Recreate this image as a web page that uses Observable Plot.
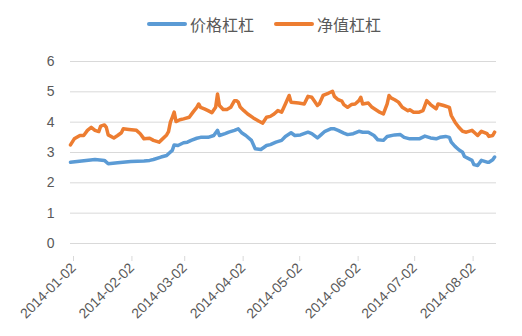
<!DOCTYPE html>
<html><head><meta charset="utf-8">
<script src="https://cdn.jsdelivr.net/npm/d3@7"></script>
<script src="https://cdn.jsdelivr.net/npm/@observablehq/plot@0.6"></script>
<style>
body{margin:0;background:#fff;}
#wrap{position:relative;width:522px;height:336px;font-family:"Liberation Sans","Noto Sans CJK SC",sans-serif;}
#legend{position:absolute;top:13px;left:0;width:522px;height:22px;}
.item{position:absolute;top:0;display:flex;align-items:center;height:22px;font-size:16px;color:#595959;font-family:"Noto Sans CJK SC",sans-serif;}
.sw{width:40px;height:4px;border-radius:2px;margin-right:3px;}
#chart{position:absolute;top:0;left:0;}
</style></head><body><div id="wrap"><div id="legend"></div><div id="chart"></div></div>
<script>
const seriesNames = ["价格杠杠", "净值杠杠"];
const seriesColors = ["#5B9BD5", "#ED7D31"];
const yTicks = [0, 1, 2, 3, 4, 5, 6];
const xTickLabels = ["2014-01-02","2014-02-02","2014-03-02","2014-04-02","2014-05-02","2014-06-02","2014-07-02","2014-08-02"];

const priceDates = ["2014-01-02","2014-01-15","2014-01-20","2014-01-22","2014-01-27","2014-02-03","2014-02-10","2014-02-13","2014-02-15","2014-02-19","2014-02-22","2014-02-23","2014-02-25","2014-02-26","2014-02-28","2014-03-03","2014-03-05","2014-03-07","2014-03-10","2014-03-12","2014-03-16","2014-03-19","2014-03-21","2014-03-22","2014-03-25","2014-03-27","2014-03-30","2014-04-01","2014-04-03","2014-04-05","2014-04-08","2014-04-10","2014-04-13","2014-04-16","2014-04-18","2014-04-21","2014-04-24","2014-04-26","2014-04-29","2014-05-01","2014-05-04","2014-05-08","2014-05-10","2014-05-13","2014-05-15","2014-05-17","2014-05-20","2014-05-22","2014-05-24","2014-05-27","2014-05-29","2014-06-01","2014-06-04","2014-06-06","2014-06-09","2014-06-12","2014-06-14","2014-06-17","2014-06-19","2014-06-23","2014-06-26","2014-06-28","2014-07-01","2014-07-06","2014-07-09","2014-07-12","2014-07-15","2014-07-17","2014-07-20","2014-07-22","2014-07-23","2014-07-25","2014-07-27","2014-07-29","2014-07-30","2014-08-03","2014-08-04","2014-08-06","2014-08-08","2014-08-11","2014-08-12","2014-08-14","2014-08-15"];
const priceValues = [2.68,2.77,2.74,2.63,2.66,2.70,2.72,2.74,2.77,2.85,2.90,2.96,3.07,3.25,3.23,3.32,3.34,3.40,3.47,3.50,3.50,3.56,3.73,3.56,3.62,3.67,3.73,3.78,3.64,3.56,3.40,3.12,3.10,3.23,3.26,3.34,3.40,3.53,3.65,3.56,3.58,3.67,3.62,3.48,3.59,3.70,3.78,3.78,3.73,3.64,3.59,3.62,3.70,3.67,3.67,3.56,3.42,3.40,3.53,3.58,3.59,3.50,3.45,3.45,3.54,3.48,3.45,3.50,3.53,3.50,3.34,3.20,3.09,3.01,2.87,2.74,2.60,2.57,2.74,2.68,2.68,2.76,2.85];

const navDates = ["2014-01-02","2014-01-04","2014-01-07","2014-01-09","2014-01-11","2014-01-13","2014-01-15","2014-01-17","2014-01-18","2014-01-20","2014-01-21","2014-01-22","2014-01-25","2014-01-27","2014-01-29","2014-01-30","2014-02-02","2014-02-06","2014-02-08","2014-02-10","2014-02-13","2014-02-15","2014-02-18","2014-02-19","2014-02-22","2014-02-23","2014-02-24","2014-02-25","2014-02-26","2014-02-27","2014-03-01","2014-03-03","2014-03-06","2014-03-08","2014-03-10","2014-03-11","2014-03-12","2014-03-14","2014-03-16","2014-03-18","2014-03-20","2014-03-21","2014-03-22","2014-03-24","2014-03-26","2014-03-28","2014-03-30","2014-03-31","2014-04-01","2014-04-02","2014-04-04","2014-04-06","2014-04-09","2014-04-12","2014-04-14","2014-04-16","2014-04-18","2014-04-20","2014-04-22","2014-04-24","2014-04-26","2014-04-28","2014-04-29","2014-05-03","2014-05-06","2014-05-08","2014-05-10","2014-05-13","2014-05-14","2014-05-16","2014-05-19","2014-05-21","2014-05-22","2014-05-24","2014-05-26","2014-05-27","2014-05-29","2014-05-31","2014-06-02","2014-06-04","2014-06-05","2014-06-06","2014-06-09","2014-06-11","2014-06-13","2014-06-15","2014-06-17","2014-06-19","2014-06-20","2014-06-21","2014-06-23","2014-06-25","2014-06-27","2014-06-30","2014-07-01","2014-07-03","2014-07-06","2014-07-08","2014-07-10","2014-07-12","2014-07-15","2014-07-16","2014-07-19","2014-07-22","2014-07-23","2014-07-25","2014-07-27","2014-07-29","2014-07-31","2014-08-03","2014-08-05","2014-08-06","2014-08-08","2014-08-11","2014-08-12","2014-08-14","2014-08-15"];
const navValues = [3.25,3.45,3.56,3.56,3.73,3.83,3.73,3.69,3.87,3.91,3.83,3.58,3.48,3.56,3.65,3.78,3.76,3.73,3.62,3.45,3.47,3.40,3.34,3.40,3.58,3.69,4.00,4.16,4.33,4.02,4.08,4.11,4.16,4.33,4.49,4.60,4.49,4.44,4.38,4.31,4.49,4.93,4.55,4.42,4.42,4.49,4.71,4.71,4.66,4.50,4.38,4.27,4.14,4.03,3.97,4.16,4.19,4.27,4.38,4.33,4.60,4.88,4.66,4.63,4.60,4.85,4.82,4.55,4.60,4.88,4.96,5.02,4.85,4.74,4.69,4.58,4.49,4.58,4.60,4.71,4.82,4.60,4.63,4.49,4.41,4.33,4.27,4.60,4.88,4.80,4.74,4.66,4.49,4.38,4.41,4.33,4.33,4.38,4.71,4.58,4.44,4.60,4.55,4.49,4.22,4.00,3.83,3.70,3.67,3.73,3.62,3.56,3.70,3.62,3.53,3.56,3.67];

const parse = d3.utcParse("%Y-%m-%d");
const fmt = d3.utcFormat("%Y-%m-%d");
const data = [
  ...priceDates.map((d, i) => ({date: parse(d), value: priceValues[i], series: seriesNames[0]})),
  ...navDates.map((d, i) => ({date: parse(d), value: navValues[i], series: seriesNames[1]}))
];
const xTicks = xTickLabels.map(parse);

const chart = Plot.plot({
  width: 522, height: 336,
  marginLeft: 70, marginRight: 26, marginTop: 61, marginBottom: 93,
  style: {fontFamily: '"Liberation Sans", sans-serif', fontSize: "14px", color: "#595959", background: "transparent"},
  x: {type: "utc", domain: [parse("2014-01-02"), parse("2014-08-16")], label: null},
  y: {domain: [0, 6], label: null},
  color: {domain: seriesNames, range: seriesColors},
  marks: [
    Plot.gridY(yTicks, {stroke: "#d9d9d9", strokeOpacity: 1}),
    Plot.ruleY([0], {stroke: "#d9d9d9"}),
    Plot.axisY(yTicks, {tickSize: 0, tickPadding: 16, tickFormat: d => String(d), fill: "#595959", label: null}),
    Plot.axisX(xTicks, {tickSize: 5, stroke: "#d9d9d9", strokeOpacity: 1, tickRotate: -45, tickPadding: 4, dx: 3, dy: 13, tickFormat: fmt, fill: "#595959", label: null}),
    Plot.lineY(data, {x: "date", y: "value", z: "series", stroke: "series", strokeWidth: 3.5, strokeLinejoin: "round", strokeLinecap: "round"})
  ]
});
document.getElementById("chart").appendChild(chart);

const legend = document.getElementById("legend");
const legendLeft = [147, 274];
seriesNames.forEach((name, i) => {
  const item = document.createElement("div");
  item.className = "item";
  item.style.left = legendLeft[i] + "px";
  item.innerHTML = `<span class="sw" style="background:${seriesColors[i]}"></span><span>${name}</span>`;
  legend.appendChild(item);
});
</script>
</body></html>
